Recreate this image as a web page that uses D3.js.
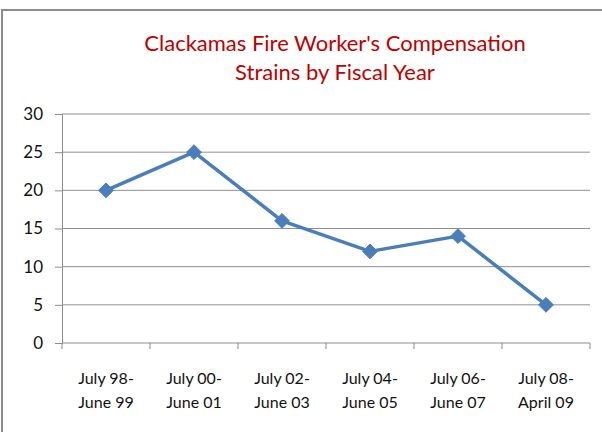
<!DOCTYPE html>
<html lang="en">
<head>
  <meta charset="UTF-8">
  <title>Clackamas Fire Worker's Compensation Strains</title>
  <script src="https://d3js.org/d3.v7.min.js"></script>
  <style>
    body { margin: 0; background: #fff; }
    svg { display: block; }
  </style>
</head>
<body>
  <div id="chart"></div>
  <script>
    // data
    const periods = [
      ["July 98-", "June 99"],
      ["July 00-", "June 01"],
      ["July 02-", "June 03"],
      ["July 04-", "June 05"],
      ["July 06-", "June 07"],
      ["July 08-", "April 09"]
    ];
    const strains = [20, 25, 16, 12, 14, 5];
    const yTicks = [0, 5, 10, 15, 20, 25, 30];
    const titleLines = ["Clackamas Fire Worker's Compensation", "Strains by Fiscal Year"];

    const width = 602, height = 432;
    const margin = { top: 114, right: 12, bottom: 89, left: 62 };
    const font = "Lato, 'Open Sans', sans-serif";

    const svg = d3.select("#chart").append("svg")
      .attr("width", width)
      .attr("height", height);

    // outer frame (only top and left edges show)
    svg.append("rect")
      .attr("x", 2).attr("y", 10)
      .attr("width", width + 10).attr("height", height + 10)
      .attr("fill", "#fff")
      .attr("stroke", "#8c8c8c")
      .attr("stroke-width", 2);

    // title
    svg.append("text")
      .attr("text-anchor", "middle")
      .attr("font-family", font)
      .attr("font-size", 22)
      .attr("fill", "#c00000")
      .selectAll("tspan")
      .data(titleLines)
      .join("tspan")
      .attr("x", 335)
      .attr("y", (d, i) => 51 + i * 29)
      .text(d => d);

    const x = d3.scaleBand()
      .domain(d3.range(periods.length))
      .range([margin.left, width - margin.right]);
    const y = d3.scaleLinear()
      .domain([0, 30])
      .range([height - margin.bottom, margin.top]);

    // gridlines
    svg.append("g")
      .selectAll("line")
      .data(yTicks.filter(d => d > 0))
      .join("line")
      .attr("x1", margin.left).attr("x2", width - margin.right)
      .attr("y1", d => y(d)).attr("y2", d => y(d))
      .attr("stroke", "#8f8f8f")
      .attr("stroke-width", 1);

    // y axis
    const yAxis = svg.append("g")
      .attr("transform", `translate(${margin.left},0)`)
      .call(d3.axisLeft(y).tickValues(yTicks).tickSize(7).tickPadding(18 - 7 + 1));
    yAxis.select(".domain").attr("stroke", "#8c8c8c");
    yAxis.selectAll(".tick line").attr("stroke", "#8c8c8c");
    yAxis.selectAll("text")
      .attr("font-family", font)
      .attr("font-size", 17)
      .attr("fill", "#111");

    // x axis with ticks on category boundaries
    const xAxis = svg.append("g")
      .attr("transform", `translate(0,${y(0)})`);
    xAxis.append("line")
      .attr("x1", margin.left).attr("x2", width - margin.right)
      .attr("stroke", "#8c8c8c");
    xAxis.selectAll("line.tk")
      .data(d3.range(periods.length + 1))
      .join("line")
      .attr("class", "tk")
      .attr("x1", i => margin.left + i * x.step())
      .attr("x2", i => margin.left + i * x.step())
      .attr("y1", 0).attr("y2", 6)
      .attr("stroke", "#8c8c8c");
    xAxis.selectAll("text")
      .data(periods)
      .join("text")
      .attr("text-anchor", "middle")
      .attr("font-family", font)
      .attr("font-size", 16)
      .attr("fill", "#111")
      .selectAll("tspan")
      .data((d, i) => d.map(t => ({ t, i })))
      .join("tspan")
      .attr("x", d => x(d.i) + x.bandwidth() / 2)
      .attr("y", (d, j) => 41 + j * 24)
      .text(d => d.t);

    // line and markers
    const cx = i => x(i) + x.bandwidth() / 2;
    svg.append("path")
      .datum(strains)
      .attr("fill", "none")
      .attr("stroke", "#4a7ebb")
      .attr("stroke-width", 3.5)
      .attr("stroke-linejoin", "round")
      .attr("d", d3.line().x((d, i) => cx(i)).y(d => y(d)));

    svg.append("g")
      .selectAll("path")
      .data(strains)
      .join("path")
      .attr("transform", (d, i) => `translate(${cx(i)},${y(d)})`)
      .attr("d", d3.symbol(d3.symbolDiamond2, 140))
      .attr("fill", "#4a7ebb")
      .attr("stroke", "#4a7ebb")
      .attr("stroke-width", 1);
  </script>
</body>
</html>
